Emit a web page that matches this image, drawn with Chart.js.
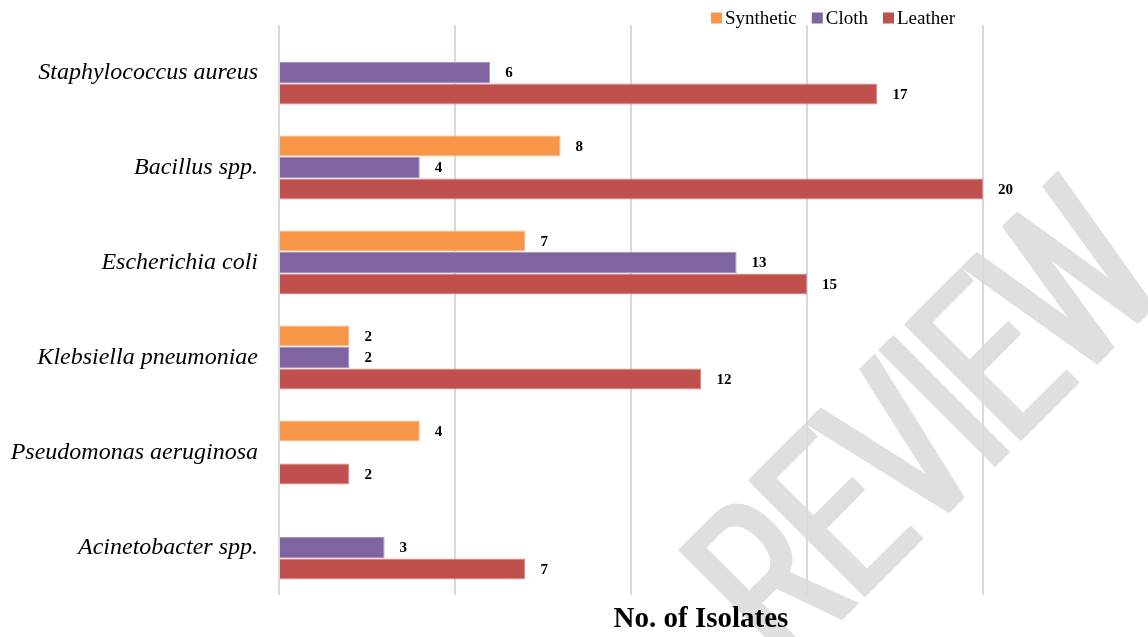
<!DOCTYPE html>
<html lang="en">
<head>
    <meta charset="UTF-8">
    <title>No. of Isolates</title>
    <style>
        html, body {
            margin: 0;
            padding: 0;
            background: #ffffff;
        }
        .chart-box {
            position: relative;
            width: 1148px;
            height: 637px;
        }
    </style>
</head>
<body>
    <div class="chart-box">
        <canvas id="isolatesChart"></canvas>
    </div>

    <script src="https://cdn.jsdelivr.net/npm/chart.js"></script>
    <script>
        // data (null = no bar drawn)
        const organisms = [
            'Staphylococcus aureus',
            'Bacillus spp.',
            'Escherichia coli',
            'Klebsiella pneumoniae',
            'Pseudomonas aeruginosa',
            'Acinetobacter spp.'
        ];
        const synthetic = [null, 8, 7, 2, 4, null];
        const cloth = [6, 4, 13, 2, null, 3];
        const leather = [17, 20, 15, 12, 2, 7];
        const seriesNames = ['Synthetic', 'Cloth', 'Leather'];
        const xMin = 0;
        const xMax = 20;
        const xStep = 5;
        const axisTitle = 'No. of Isolates';
        const watermarkText = 'REVIEW';

        const serif = "'Liberation Serif', 'Times New Roman', serif";

        // grey watermark, drawn first so the grid sits on top of it
        const watermark = {
            id: 'watermark',
            beforeDraw(chart) {
                const ctx = chart.ctx;
                ctx.save();
                ctx.translate(981, 481);
                ctx.rotate(-Math.PI / 4);
                ctx.scale(0.57, 1);
                ctx.fillStyle = '#dfdfdf';
                ctx.font = "240px 'Liberation Sans', Arial, sans-serif";
                ctx.textAlign = 'center';
                ctx.textBaseline = 'alphabetic';
                // a few shifted copies to thicken the narrow strokes
                [-8, -4, 0, 4, 8].forEach(dx => ctx.fillText(watermarkText, dx, 0));
                ctx.restore();
            }
        };

        // value labels to the right of each bar
        const barValues = {
            id: 'barValues',
            afterDatasetsDraw(chart) {
                const ctx = chart.ctx;
                ctx.save();
                ctx.font = 'bold 15px ' + serif;
                ctx.fillStyle = '#000000';
                ctx.textAlign = 'left';
                ctx.textBaseline = 'middle';
                chart.data.datasets.forEach((ds, i) => {
                    chart.getDatasetMeta(i).data.forEach((bar, j) => {
                        const v = ds.data[j];
                        if (v === null || v === undefined) return;
                        ctx.fillText(String(v), bar.x + 15, bar.y + 1);
                    });
                });
                ctx.restore();
            }
        };

        // legend at the top right and the axis title under the plot
        const legendAndTitle = {
            id: 'legendAndTitle',
            afterDraw(chart) {
                const ctx = chart.ctx;
                const area = chart.chartArea;
                ctx.save();

                ctx.font = '19px ' + serif;
                ctx.textBaseline = 'middle';
                ctx.textAlign = 'left';
                const box = 11, gap = 3, itemGap = 15;
                const widths = chart.data.datasets.map(ds => box + gap + ctx.measureText(ds.label).width);
                const total = widths.reduce((a, b) => a + b, 0) + itemGap * (widths.length - 1);
                let x = area.right - 28 - total;
                const y = 18;
                chart.data.datasets.forEach((ds, i) => {
                    ctx.fillStyle = ds.backgroundColor;
                    ctx.fillRect(x, y - box / 2, box, box);
                    ctx.fillStyle = '#000000';
                    ctx.fillText(ds.label, x + box + gap, y + 1);
                    x += widths[i] + itemGap;
                });

                ctx.font = 'bold 29px ' + serif;
                ctx.textAlign = 'center';
                ctx.fillText(axisTitle, (area.left + area.right) / 2 + 70, area.bottom + 25);
                ctx.restore();
            }
        };

        const ctx = document.getElementById('isolatesChart').getContext('2d');
        const isolatesChart = new Chart(ctx, {
            type: 'bar',
            data: {
                labels: organisms,
                datasets: [
                    {
                        label: seriesNames[0],
                        data: synthetic,
                        backgroundColor: '#F79646',
                        borderColor: '#FAB98A',
                        borderWidth: 1
                    },
                    {
                        label: seriesNames[1],
                        data: cloth,
                        backgroundColor: '#8064A2',
                        borderColor: '#A996C2',
                        borderWidth: 1
                    },
                    {
                        label: seriesNames[2],
                        data: leather,
                        backgroundColor: '#C0504D',
                        borderColor: '#DA8C8A',
                        borderWidth: 1
                    }
                ]
            },
            options: {
                indexAxis: 'y',
                responsive: true,
                maintainAspectRatio: false,
                animation: false,
                layout: {
                    padding: { top: 25, right: 165, bottom: 42, left: 0 }
                },
                datasets: {
                    bar: {
                        categoryPercentage: 0.68,
                        barPercentage: 0.98
                    }
                },
                scales: {
                    x: {
                        min: xMin,
                        max: xMax,
                        ticks: { display: false, stepSize: xStep },
                        grid: {
                            color: '#d9d9d9',
                            lineWidth: 2,
                            drawTicks: false
                        },
                        border: { display: false }
                    },
                    y: {
                        ticks: {
                            color: '#000000',
                            padding: 21,
                            font: { family: serif, size: 24, style: 'italic' }
                        },
                        grid: { display: false, drawTicks: false },
                        border: { display: false },
                        afterFit(scale) {
                            scale.width = 279;
                            scale.paddingTop = 0;
                            scale.paddingBottom = 0;
                        }
                    }
                },
                plugins: {
                    legend: { display: false },
                    tooltip: { enabled: false }
                }
            },
            plugins: [watermark, barValues, legendAndTitle]
        });
    </script>
</body>
</html>
